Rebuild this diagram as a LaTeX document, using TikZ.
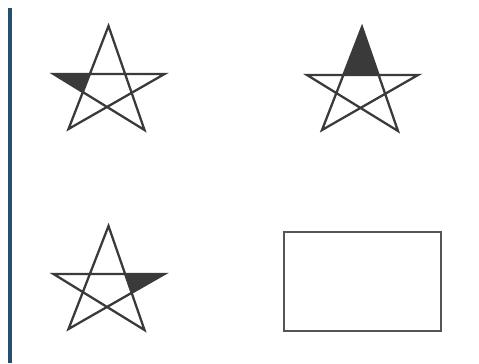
\documentclass[tikz,border=0pt]{standalone}
\usepackage{tikz}
\usetikzlibrary{calc}
\definecolor{BarBlue}{HTML}{24506E}
\definecolor{StarGray}{HTML}{3A3A3A}
\definecolor{BoxGray}{HTML}{555555}

\begin{document}
\begin{tikzpicture}[
  x=0.02cm,y=-0.02cm,
  starline/.style={draw=StarGray,line width=1.3pt,line join=miter},
  starfill/.style={fill=StarGray},
  boxline/.style={draw=BoxGray,line width=1.4pt}
]
  \useasboundingbox (0,0) rectangle (479,363);
  % left bar
  \fill[BarBlue] (8,8) rectangle (12,363);

  % star tips: t, l, r, bl, br
  \foreach \sx/\sy/\sn in {108.5/26/a, 362/27/b, 108.5/226/c} {
    \coordinate (\sn t)  at (\sx,\sy);
    \coordinate (\sn l)  at ($(\sx,\sy)+(-55,48)$);
    \coordinate (\sn r)  at ($(\sx,\sy)+(56,48)$);
    \coordinate (\sn bl) at ($(\sx,\sy)+(-40,103)$);
    \coordinate (\sn br) at ($(\sx,\sy)+(36,104)$);
  }

  % shaded arms
  \fill[starfill] (al) -- (intersection of al--ar and at--abl)
    -- (intersection of al--abr and at--abl) -- cycle;
  \fill[starfill] (bt) -- (intersection of bl--br and bt--bbl)
    -- (intersection of bl--br and bt--bbr) -- cycle;
  \fill[starfill] (cr) -- (intersection of cl--cr and ct--cbr)
    -- (intersection of cr--cbl and ct--cbr) -- cycle;

  % pentagrams
  \foreach \sn in {a,b,c}
    \draw[starline] (\sn t) -- (\sn bl) -- (\sn r) -- (\sn l) -- (\sn br) -- cycle;

  % box
  \draw[boxline] (284,232) rectangle (441,331);
\end{tikzpicture}
\end{document}
